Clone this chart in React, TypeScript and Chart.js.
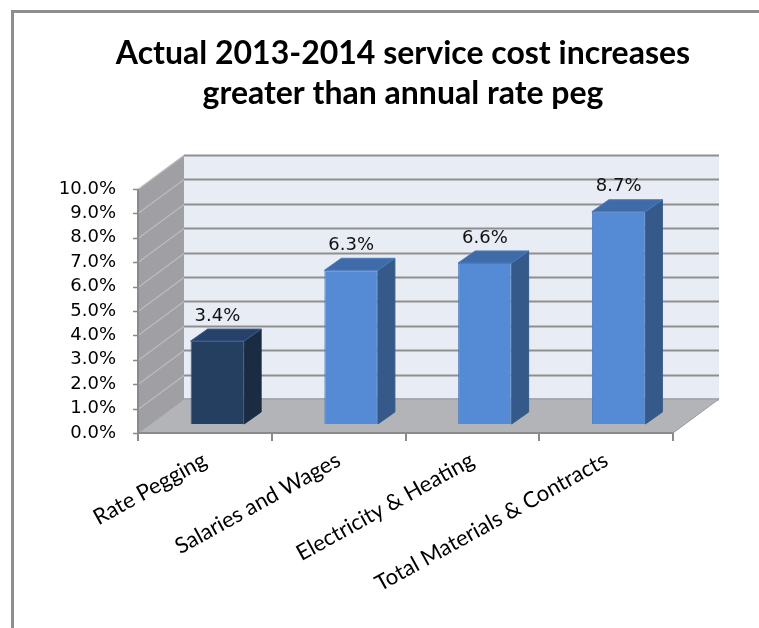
import React, { useEffect, useRef } from "react";
import { Chart, registerables } from "chart.js";

Chart.register(...registerables);

// ---- data ----
const TITLE_LINES = ["Actual 2013-2014 service cost increases", "greater than annual rate peg"];
const CATEGORIES = ["Rate Pegging", "Salaries and Wages", "Electricity & Heating", "Total Materials & Contracts"];
const VALUES = [3.4, 6.3, 6.6, 8.7];
const Y_MIN = 0;
const Y_MAX = 10;
const Y_STEP = 1;

// ---- styles ----
const FRONT_COLORS = ["#243f60", "#558bd4", "#558bd4", "#558bd4"];
const SIDE_COLORS = ["#1a2b42", "#355a89", "#355a89", "#355a89"];
const TOP_COLORS = ["#26416a", "#3f6ca9", "#3f6ca9", "#3f6ca9"];
const BORDER_COLORS = ["#3d5f8c", "#4a7bbf", "#4a7bbf", "#4a7bbf"];

const WALL_DX = 46;
const WALL_DY = -34;
const BAR_OX = 12.5;
const BAR_OY = -9;
const BAR_DX = 17;
const BAR_DY = -12;

const fmtPct = (v: number) => v.toFixed(1) + "%";

const threeDPlugin = {
  id: "threeD",
  beforeDraw(chart: any) {
    const ctx = chart.ctx;
    ctx.save();
    ctx.strokeStyle = "#8e8e8e";
    ctx.lineWidth = 3;
    ctx.beginPath();
    ctx.moveTo(12.5, chart.height);
    ctx.lineTo(12.5, 11.5);
    ctx.lineTo(chart.width, 11.5);
    ctx.stroke();
    ctx.fillStyle = "#000";
    ctx.font = "bold 32px Lato";
    ctx.textAlign = "center";
    ctx.textBaseline = "alphabetic";
    const cx = 403;
    ctx.fillText(TITLE_LINES[0], cx, 64);
    ctx.fillText(TITLE_LINES[1], cx, 104);
    ctx.restore();
  },
  beforeDatasetsDraw(chart: any) {
    const ctx = chart.ctx;
    const { left, right, top, bottom } = chart.chartArea;
    const ys = chart.scales.y;
    ctx.save();

    ctx.fillStyle = "#a0a0a4";
    ctx.beginPath();
    ctx.moveTo(left, bottom);
    ctx.lineTo(left, top);
    ctx.lineTo(left + WALL_DX, top + WALL_DY);
    ctx.lineTo(left + WALL_DX, bottom + WALL_DY);
    ctx.closePath();
    ctx.fill();

    ctx.fillStyle = "#e8ecf5";
    ctx.fillRect(left + WALL_DX, top + WALL_DY, right - left, bottom - top);

    for (let v = Y_MIN; v <= Y_MAX + 1e-9; v += Y_STEP) {
      const py = Math.round(ys.getPixelForValue(v)) + 0.5;
      ctx.strokeStyle = "#bcbcbe";
      ctx.lineWidth = 1.2;
      ctx.beginPath();
      ctx.moveTo(left, py);
      ctx.lineTo(left + WALL_DX, py + WALL_DY);
      ctx.stroke();
      ctx.strokeStyle = "#8f8f8f";
      ctx.lineWidth = 2;
      ctx.beginPath();
      ctx.moveTo(left + WALL_DX, py + WALL_DY);
      ctx.lineTo(right + WALL_DX, py + WALL_DY);
      ctx.stroke();
      ctx.strokeStyle = "#8a8a8a";
      ctx.lineWidth = 1.5;
      ctx.beginPath();
      ctx.moveTo(left - 5, py);
      ctx.lineTo(left, py);
      ctx.stroke();
    }

    ctx.fillStyle = "#b2b4b8";
    ctx.strokeStyle = "#9a9a9c";
    ctx.lineWidth = 1;
    ctx.beginPath();
    ctx.moveTo(left, bottom);
    ctx.lineTo(right, bottom);
    ctx.lineTo(right + WALL_DX, bottom + WALL_DY);
    ctx.lineTo(left + WALL_DX, bottom + WALL_DY);
    ctx.closePath();
    ctx.fill();
    ctx.stroke();

    ctx.strokeStyle = "#8a8a8a";
    ctx.lineWidth = 2;
    ctx.beginPath();
    ctx.moveTo(left, top);
    ctx.lineTo(left, bottom);
    ctx.lineTo(right, bottom);
    ctx.stroke();
    const n = CATEGORIES.length;
    const step = (right - left) / n;
    for (let i = 0; i <= n; i++) {
      const px = Math.round(left + i * step);
      ctx.beginPath();
      ctx.moveTo(px, bottom);
      ctx.lineTo(px, bottom + 8);
      ctx.stroke();
    }

    const meta = chart.getDatasetMeta(0);
    meta.data.forEach((el: any, i: number) => {
      const { x, y, base, width } = el.getProps(["x", "y", "base", "width"], true);
      const x0 = x - width / 2 + BAR_OX;
      const x1 = x + width / 2 + BAR_OX;
      const y0 = y + BAR_OY;
      const y1 = base + BAR_OY;
      ctx.fillStyle = SIDE_COLORS[i];
      ctx.strokeStyle = SIDE_COLORS[i];
      ctx.lineWidth = 1;
      ctx.beginPath();
      ctx.moveTo(x1, y1);
      ctx.lineTo(x1, y0);
      ctx.lineTo(x1 + BAR_DX, y0 + BAR_DY);
      ctx.lineTo(x1 + BAR_DX, y1 + BAR_DY);
      ctx.closePath();
      ctx.fill();
      ctx.stroke();
      ctx.fillStyle = TOP_COLORS[i];
      ctx.strokeStyle = BORDER_COLORS[i];
      ctx.beginPath();
      ctx.moveTo(x0, y0);
      ctx.lineTo(x1, y0);
      ctx.lineTo(x1 + BAR_DX, y0 + BAR_DY);
      ctx.lineTo(x0 + BAR_DX, y0 + BAR_DY);
      ctx.closePath();
      ctx.fill();
      ctx.stroke();
    });

    ctx.restore();
    ctx.save();
    ctx.translate(BAR_OX, BAR_OY);
  },
  afterDatasetsDraw(chart: any) {
    const ctx = chart.ctx;
    ctx.restore();
    const meta = chart.getDatasetMeta(0);
    ctx.save();
    ctx.fillStyle = "#111";
    ctx.font = "18px 'DejaVu Sans'";
    ctx.textAlign = "center";
    ctx.textBaseline = "middle";
    meta.data.forEach((el: any, i: number) => {
      const { x, y } = el.getProps(["x", "y"], true);
      ctx.fillText(fmtPct(VALUES[i]), x + BAR_OX, y + BAR_OY - 25);
    });
    ctx.restore();
  },
};

export default function App() {
  const ref = useRef<HTMLCanvasElement>(null);
  useEffect(() => {
    const chart = new Chart(ref.current as HTMLCanvasElement, {
      type: "bar",
      data: {
        labels: CATEGORIES,
        datasets: [
          {
            data: VALUES,
            backgroundColor: FRONT_COLORS,
            borderColor: BORDER_COLORS,
            borderWidth: 1,
            barPercentage: 0.4,
            categoryPercentage: 1,
            clip: false as any,
          },
        ],
      },
      options: {
        responsive: false,
        animation: false,
        events: [],
        layout: { padding: { left: 0, right: 86, top: 189, bottom: 0 } },
        plugins: {
          legend: { display: false },
          title: { display: false },
          tooltip: { enabled: false },
        },
        scales: {
          x: {
            grid: { display: false, drawTicks: false },
            border: { display: false },
            ticks: {
              autoSkip: false,
              minRotation: 29,
              maxRotation: 29,
              padding: 14,
              color: "#000",
              font: { family: "Lato", size: 22 },
            },
            afterFit: (s: any) => {
              s.height = 195;
            },
          },
          y: {
            min: Y_MIN,
            max: Y_MAX,
            grid: { display: false, drawTicks: false },
            border: { display: false },
            ticks: {
              autoSkip: false,
              stepSize: Y_STEP,
              padding: 22,
              color: "#000",
              font: { family: "DejaVu Sans", size: 18 },
              callback: (v: any) => fmtPct(Number(v)),
            },
            afterFit: (s: any) => {
              s.width = 138;
            },
          },
        },
      },
      plugins: [threeDPlugin],
    });
    return () => chart.destroy();
  }, []);
  return (
    <div style={{ position: "fixed", left: 0, top: 0, width: 759, height: 628, background: "#fff", overflow: "hidden" }}>
      <canvas ref={ref} width={759} height={628} style={{ display: "block", width: 759, height: 628 }} />
    </div>
  );
}
